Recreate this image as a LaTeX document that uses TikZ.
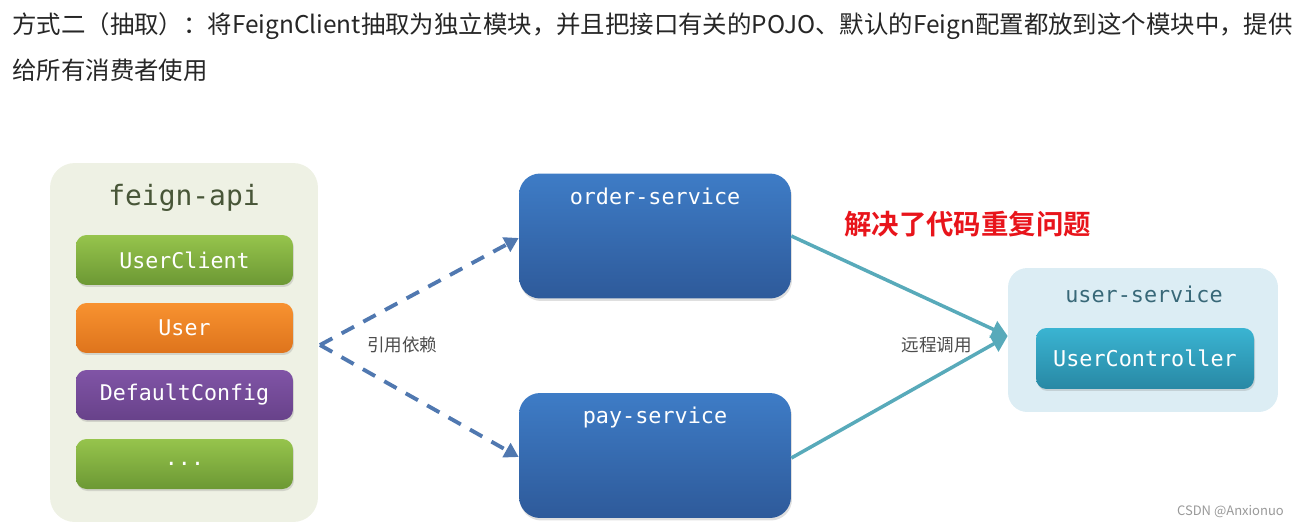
\documentclass[tikz,border=0pt]{standalone}
\usepackage{fontspec}
\setmainfont{Noto Sans CJK SC}
\setmonofont{DejaVu Sans Mono}
\newfontfamily\cjkbold[BoldFont={Noto Sans CJK SC Bold}]{Noto Sans CJK SC}
\usepackage{tikz}
\usetikzlibrary{arrows.meta, positioning, shadows}
\definecolor{apibg}{RGB}{238, 241, 228}
\definecolor{apititle}{RGB}{72, 86, 56}
\definecolor{greentop}{RGB}{150, 196, 76}
\definecolor{greenbot}{RGB}{108, 152, 52}
\definecolor{orangetop}{RGB}{248, 146, 48}
\definecolor{orangebot}{RGB}{222, 116, 28}
\definecolor{purpletop}{RGB}{128, 84, 166}
\definecolor{purplebot}{RGB}{104, 66, 138}
\definecolor{bluetop}{RGB}{62, 124, 198}
\definecolor{bluebot}{RGB}{46, 90, 154}
\definecolor{dashblue}{RGB}{80, 120, 176}
\definecolor{callteal}{RGB}{88, 170, 186}
\definecolor{userbg}{RGB}{220, 237, 244}
\definecolor{usertitle}{RGB}{56, 104, 120}
\definecolor{tealtop}{RGB}{58, 180, 210}
\definecolor{tealbot}{RGB}{40, 136, 164}
\definecolor{hintred}{RGB}{232, 20, 27}

\tikzset{
    module/.style={rounded corners=6pt, minimum width=4.34cm, minimum height=1cm,
        text=white, font=\ttfamily\fontsize{12.3}{14}\selectfont,
        drop shadow={shadow xshift=0.02cm, shadow yshift=-0.04cm, opacity=0.25}},
    service/.style={rounded corners=12pt, minimum width=5.44cm, minimum height=2.5cm,
        top color=bluetop, bottom color=bluebot,
        drop shadow={shadow xshift=0.02cm, shadow yshift=-0.05cm, opacity=0.25}},
    svclabel/.style={text=white, font=\ttfamily\fontsize{12.4}{14}\selectfont},
    depend/.style={dashblue, line width=2.2pt, dash pattern=on 8pt off 6pt, -{Triangle[length=8pt,width=9pt]}},
    call/.style={callteal, line width=2pt, -{Triangle[length=9pt,width=10pt]}},
    note/.style={text=black!70, font=\fontsize{10}{12}\selectfont}
}

\begin{document}
\begin{tikzpicture}[x=0.02cm, y=-0.02cm]
\useasboundingbox (0,0) rectangle (1307,527);

\node[anchor=west, inner sep=0pt, font=\fontsize{13.9}{16}\selectfont, text=black!85] (head1) at (12,26)
    {方式二（抽取）：将FeignClient抽取为独立模块，并且把接口有关的POJO、默认的Feign配置都放到这个模块中，提供};
\node[anchor=west, inner sep=0pt, font=\fontsize{13.9}{16}\selectfont, text=black!85] (head2) at (12,70)
    {给所有消费者使用};

\node[fill=apibg, rounded corners=14pt, minimum width=5.36cm, minimum height=7.18cm] (api) at (184,342.5) {};
\node[text=apititle, font=\ttfamily\fontsize{15.9}{18}\selectfont] (apiname) at (184,198) {feign-api};
\node[module, top color=greentop, bottom color=greenbot] (client) at (184.5,260) {UserClient};
\node[module, top color=orangetop, bottom color=orangebot] (user) at (184.5,328) {User};
\node[module, top color=purpletop, bottom color=purplebot] (config) at (184.5,395) {DefaultConfig};
\node[module, top color=greentop, bottom color=greenbot] (more) at (184.5,464) {...};

\node[service] (order) at (655,236) {};
\node[svclabel] at (655,196) {order-service};
\node[service] (pay) at (655,455.5) {};
\node[svclabel] at (655,417) {pay-service};

\node[fill=userbg, rounded corners=11pt, minimum width=5.4cm, minimum height=2.88cm] (usersvc) at (1143,340) {};
\node[text=usertitle, font=\ttfamily\fontsize{12.4}{14}\selectfont] (usrname) at (1144,294) {user-service};
\node[module, minimum width=4.36cm, minimum height=1.22cm, top color=tealtop, bottom color=tealbot,
    font=\ttfamily\fontsize{12.4}{14}\selectfont] (controller) at (1145,358.5) {UserController};

\coordinate (dep) at (320,345);
\draw[depend] (dep) -- (order.west |- 0,238);
\draw[depend] (dep) -- (pay.west |- 0,457);
\node[note, anchor=west] (deplabel) at (361,345) {引用依赖};

\draw[call] (order.east |- 0,236) -- (usersvc.west |- 0,336);
\draw[call] (pay.east |- 0,458) -- (usersvc.west |- 0,336);
\node[note, anchor=east] (calllabel) at (978,345) {远程调用};

\node[anchor=west, text=hintred, font=\cjkbold\bfseries\fontsize{15.6}{18}\selectfont] (hint) at (838,224) {解决了代码重复问题};
\node[anchor=east, text=black!40, font=\fontsize{7.4}{9}\selectfont] (mark) at (1290,512) {CSDN @Anxionuo};
\end{tikzpicture}
\end{document}
